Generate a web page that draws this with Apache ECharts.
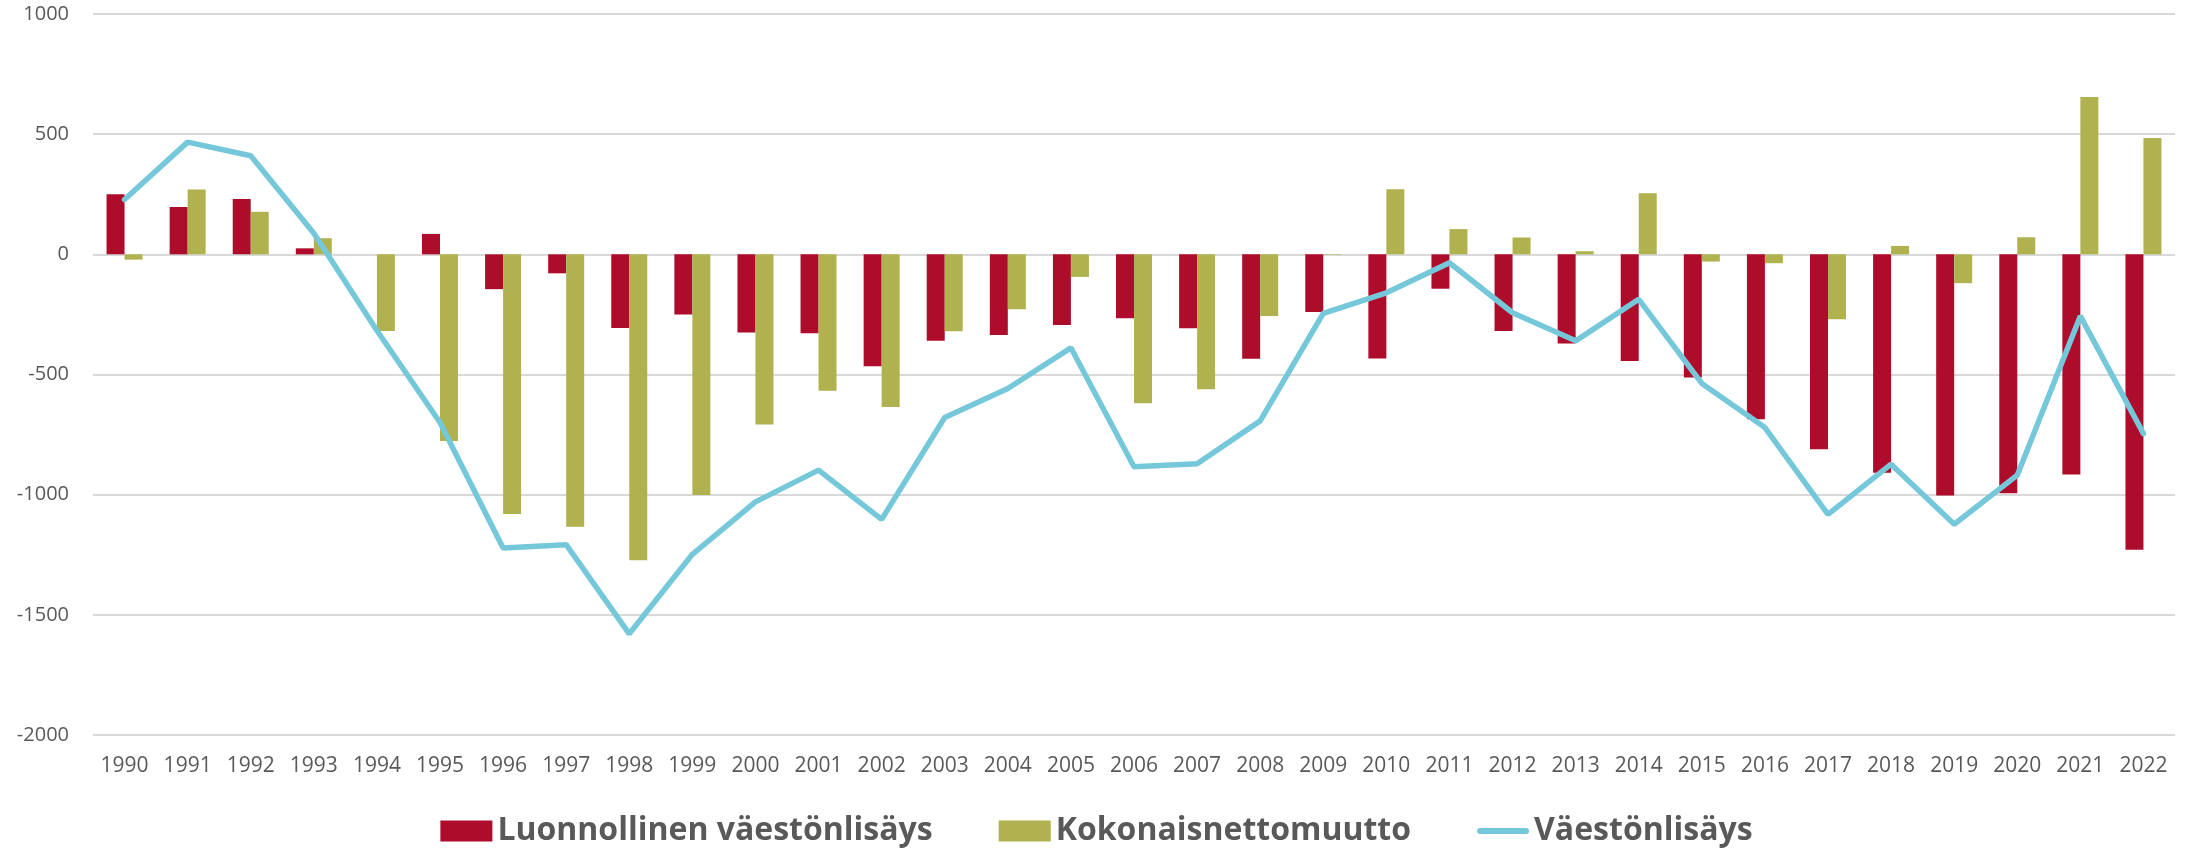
<!DOCTYPE html>
<html>
<head>
    <meta charset="utf-8">
    <title>Väestönmuutokset</title>
    <script src="https://cdn.jsdelivr.net/npm/echarts@6/dist/echarts.min.js"></script>
    <style>
        html, body { margin: 0; padding: 0; background: #fff; }
    </style>
</head>
<body>
    <div id="main" style="width: 2193px;height:849px;"></div>
    <script type="text/javascript">
        // vuodet
        const years = ['1990', '1991', '1992', '1993', '1994', '1995', '1996', '1997', '1998', '1999',
            '2000', '2001', '2002', '2003', '2004', '2005', '2006', '2007', '2008', '2009',
            '2010', '2011', '2012', '2013', '2014', '2015', '2016', '2017', '2018', '2019',
            '2020', '2021', '2022'];

        // luonnollinen väestönlisäys
        const natural = [250, 197, 230, 25, 0, 85, -145, -79, -307, -250,
            -325, -328, -466, -360, -336, -294, -266, -308, -434, -240,
            -433, -143, -319, -371, -444, -512, -686, -811, -909, -1003,
            -994, -916, -1229];

        // kokonaisnettomuutto
        const netMigration = [-22, 270, 177, 67, -319, -777, -1080, -1133, -1273, -1001,
            -708, -568, -635, -320, -229, -94, -620, -561, -257, -2,
            271, 105, 70, 13, 254, -30, -37, -270, 35, -120,
            71, 655, 484];

        // väestönlisäys
        const total = [228, 467, 410, 88, -317, -700, -1222, -1208, -1579, -1248,
            -1030, -898, -1103, -679, -558, -389, -884, -871, -693, -246,
            -160, -35, -243, -360, -187, -537, -721, -1082, -873, -1123,
            -919, -257, -746];

        const yTicks = { min: -2000, max: 1000, step: 500 };

        let myChart = echarts.init(document.getElementById('main'));

        // legendan viivaikoni (pyöreät päät)
        const lineIcon = 'path://M3,0 h46 a3,3 0 0 1 0,6 h-46 a3,3 0 0 1 0,-6 z';

        let option = {
            animation: false,
            textStyle: { fontFamily: '"Open Sans", Lato, sans-serif' },
            grid: {
                left: 93,
                right: 18,
                top: 14,
                bottom: 114
            },
            legend: {
                top: 810,
                left: 'center',
                itemGap: 66,
                itemWidth: 52,
                itemHeight: 21,
                textStyle: {
                    fontSize: 32,
                    fontWeight: 'bold',
                    color: '#595959'
                },
                data: [
                    { name: 'Luonnollinen väestönlisäys', icon: 'rect' },
                    { name: 'Kokonaisnettomuutto', icon: 'rect' },
                    { name: 'Väestönlisäys', icon: lineIcon, itemStyle: { color: '#75c8da' } }
                ]
            },
            xAxis: {
                type: 'category',
                data: years,
                axisLine: { show: false },
                axisTick: { show: false },
                axisLabel: {
                    color: '#595959',
                    fontSize: 21,
                    margin: 21,
                    interval: 0
                }
            },
            yAxis: {
                type: 'value',
                min: yTicks.min,
                max: yTicks.max,
                interval: yTicks.step,
                axisLine: { show: false },
                axisTick: { show: false },
                axisLabel: {
                    color: '#595959',
                    fontSize: 20,
                    margin: 24,
                    formatter: function (v) { return String(v); }
                },
                splitLine: {
                    lineStyle: { color: '#d9d9d9', width: 2 }
                }
            },
            series: [
                {
                    name: 'Luonnollinen väestönlisäys',
                    type: 'bar',
                    barWidth: 18,
                    barGap: '0%',
                    itemStyle: { color: '#ae0c2b' },
                    data: natural
                },
                {
                    name: 'Kokonaisnettomuutto',
                    type: 'bar',
                    barWidth: 18,
                    barGap: '0%',
                    itemStyle: { color: '#afb24f' },
                    data: netMigration
                },
                {
                    name: 'Väestönlisäys',
                    type: 'line',
                    symbol: 'none',
                    z: 5,
                    lineStyle: { color: '#75c8da', width: 5.5, cap: 'round' },
                    itemStyle: { color: '#75c8da' },
                    data: total
                }
            ]
        };

        myChart.setOption(option);
    </script>
</body>
</html>
